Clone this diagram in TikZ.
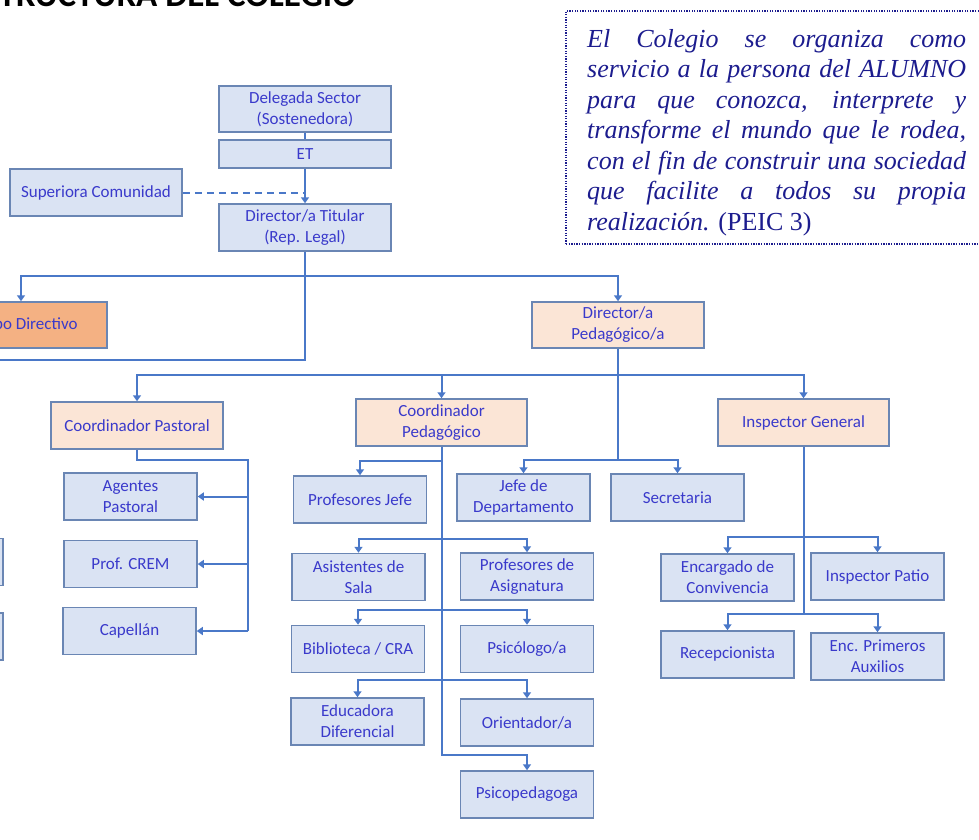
\documentclass[tikz,border=0pt]{standalone}
\usepackage{fontspec}
\setmainfont{Carlito}
\newfontfamily\quotefont{Liberation Serif}
\usetikzlibrary{arrows.meta}
\definecolor{lnc}{HTML}{4A78C8}
\definecolor{bdc}{HTML}{6A86B4}
\definecolor{txc}{HTML}{3A3ACB}
\definecolor{bfill}{HTML}{DAE3F3}
\definecolor{pfill}{HTML}{FBE5D6}
\definecolor{ofill}{HTML}{F4B183}
\definecolor{qc}{HTML}{1C1C8E}
\begin{document}
\begin{tikzpicture}[x=1pt,y=-1pt,
  box/.style={draw=bdc, line width=1.5pt, fill=bfill, text=txc, inner sep=0pt, align=center,
    font=\fontsize{17}{21}\selectfont, minimum width=133pt, minimum height=47pt},
  pbox/.style={box, fill=pfill},
  wide/.style={minimum width=172pt},
  conn/.style={draw=lnc, line width=2pt},
  arr/.style={conn, -{Triangle[width=8pt,length=6pt]}},
]
\useasboundingbox (0,0) rectangle (979,839);
\clip (0,0) rectangle (979,839);

% title
\node[anchor=base east, inner sep=0pt, font=\bfseries\fontsize{35}{35}\selectfont] (title) at (356,6) {ESTRUCTURA DEL COLEGIO};

% quote
\node[draw=qc, line width=1.3pt, dash pattern=on 1.3pt off 1.3pt, minimum width=424pt, minimum height=233pt, inner sep=0pt] (qbox) at (778,127.5) {};
\node[anchor=north west, inner sep=0pt, align=left, text=qc,
  font=\quotefont\itshape\fontsize{26}{30.5}\selectfont] (qtext) at (587,27) {%
\rule{0pt}{20pt}\makebox[379pt][s]{El Colegio se organiza como}\\
\makebox[379pt][s]{servicio a la persona del ALUMNO}\\
\makebox[379pt][s]{para que conozca, interprete y}\\
\makebox[379pt][s]{transforme el mundo que le rodea,}\\
\makebox[379pt][s]{con el fin de construir una sociedad}\\
\makebox[379pt][s]{que facilite a todos su propia}\\
realización. {\upshape (PEIC 3)}};

% top chain
\node[box, wide, minimum height=46pt] (dsec) at (305,109) {Delegada Sector\\(Sostenedora)};
\node[box, wide, minimum height=28pt] (et) at (305,154) {ET};
\node[box, wide] (sup) at (96,192.5) {Superiora Comunidad};
\node[box, wide] (dtit) at (305,227.5) {Director/a Titular\\(Rep. Legal)};
\node[box, wide, fill=ofill, minimum height=46pt] (eqdir) at (21,325) {Equipo Directivo};
\node[pbox, wide, minimum height=46pt] (dped) at (618,325) {Director/a\\Pedagógico/a};

% level 3
\node[pbox, wide] (cpas) at (137,425.5) {Coordinador Pastoral};
\node[pbox, minimum width=171pt] (cped) at (441.5,422.5) {Coordinador\\Pedagógico};
\node[pbox, minimum width=171pt] (insp) at (803.5,422.5) {Inspector General};

% pastoral
\node[box] (agen) at (130.5,496.5) {Agentes\\Pastoral};
\node[box] (crem) at (130.5,564) {Prof. CREM};
\node[box] (cap) at (129.5,631) {Capellán};
\node[box] (left1) at (-63.5,562) {};
\node[box] (left2) at (-63.5,636.5) {};

% pedagogico
\node[box] (pjef) at (360,499.5) {Profesores Jefe};
\node[box] (jdep) at (523.5,497.5) {Jefe de\\Departamento};
\node[box] (secr) at (677.5,497.5) {Secretaria};
\node[box] (asis) at (358.5,577) {Asistentes de\\Sala};
\node[box] (pasig) at (527,576.5) {Profesores de\\Asignatura};
\node[box] (bibl) at (358,649) {Biblioteca / CRA};
\node[box] (psic) at (527,649) {Psicólogo/a};
\node[box] (educ) at (357.5,721.5) {Educadora\\Diferencial};
\node[box] (orie) at (527,722.5) {Orientador/a};
\node[box] (psped) at (527,794.5) {Psicopedagoga};

% inspector
\node[box] (enc) at (727.5,577.5) {Encargado de\\Convivencia};
\node[box] (ipat) at (877.5,576.5) {Inspector Patio};
\node[box] (recep) at (727.5,654.5) {Recepcionista};
\node[box] (prim) at (877.5,656.5) {Enc. Primeros\\Auxilios};

% connectors top
\draw[conn] (dsec.south) -- (et.north);
\draw[arr] (et.south) -- (dtit.north);
\draw[conn, dash pattern=on 7pt off 5pt] (sup.east) -- (sup.east -| et.south);
\draw[conn] (dtit.south) |- (-10,360);
\draw[arr] (dtit.south |- 0,276) -| (eqdir.north);
\draw[arr] (dtit.south |- 0,276) -| (dped.north);

% director pedagogico
\draw[conn] (dped.south) -- (dped.south |- 0,460);
\draw[arr] (dped.south |- 0,375) -| (cpas.north);
\draw[arr] (dped.south |- 0,375) -| (cped.north);
\draw[arr] (dped.south |- 0,375) -| (insp.north);
\draw[arr] (dped.south |- 0,460) -| (jdep.north);
\draw[arr] (dped.south |- 0,460) -| (secr.north);

% pastoral
\coordinate (pv) at (248,460);
\draw[conn] (cpas.south) |- (pv) -- (cap.east -| pv);
\draw[arr] (agen.east -| pv) -- (agen.east);
\draw[arr] (crem.east -| pv) -- (crem.east);
\draw[arr] (cap.east -| pv) -- (cap.east);

% pedagogico
\draw[arr] (cped.south) |- (psped.north |- 0,755) -- (psped.north);
\draw[arr] (cped.south |- 0,461) -| (pjef.north);
\draw[arr] (cped.south |- 0,539) -| (asis.north);
\draw[arr] (cped.south |- 0,539) -| (pasig.north);
\draw[arr] (cped.south |- 0,610) -| (bibl.north);
\draw[arr] (cped.south |- 0,610) -| (psic.north);
\draw[arr] (cped.south |- 0,680) -| (educ.north);
\draw[arr] (cped.south |- 0,680) -| (orie.north);

% inspector
\draw[conn] (insp.south) -- (insp.south |- 0,614);
\draw[arr] (insp.south |- 0,537) -| (enc.north);
\draw[arr] (insp.south |- 0,537) -| (ipat.north);
\draw[arr] (insp.south |- 0,614) -| (recep.north);
\draw[arr] (insp.south |- 0,614) -| (prim.north);
\end{tikzpicture}
\end{document}
